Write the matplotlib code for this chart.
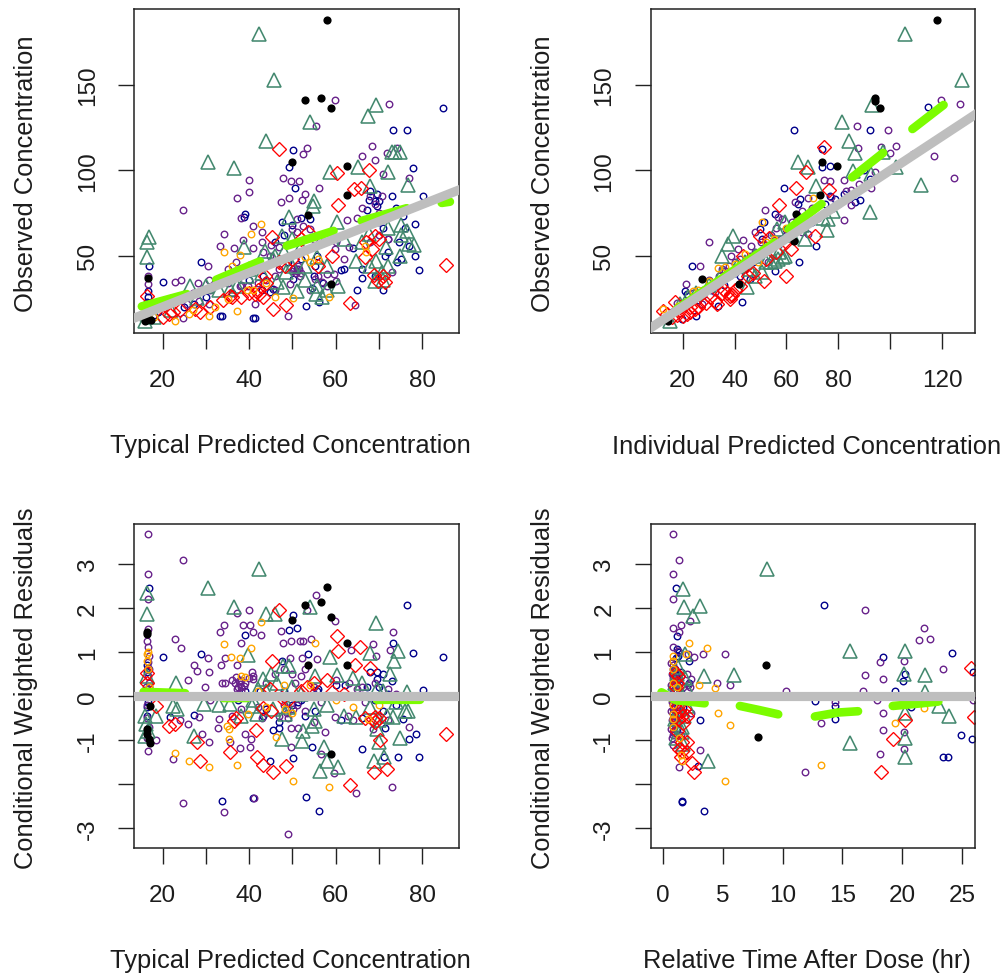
import numpy as np
import matplotlib
matplotlib.use("Agg")
import matplotlib.pyplot as plt

plt.rcParams['font.family'] = ['Liberation Sans', 'DejaVu Sans']

# ---- Panel A: typical predicted vs observed
a_navy_x = [84.8,73.3,76.5,50.2,49.2,77.9,50.6,72.9,69.5,67.8,80.2,67.3,39.1,38.7,75.6,78.3,76,71,74.7,77,78.3,74.2,79.3,71.4,64.1,61.2,66,71,56.2,53.1,41,33.7,28.8,20.1,16.8,16.6,16.6,16.4,55.2,51,50.2,54.5,45.6,47.5,54.1,43.3,60.2,55.6,44.8,27.2,33.2,41.3,69,69.5,72,
            46,48,50,52,53,49,47,52,55,57,62,65,70,73,74,70,68,72,75,69,66,38,40,43,36,30,25,19,17,18]
a_navy_y = [136.5,123.6,123.6,111.9,102.1,101.4,89.5,85.2,86.1,82.8,85.2,77,74.4,72.5,73,68.6,66,66,58.2,55.9,50,46.1,41.6,49.6,54.5,41.6,36.9,29.9,22.7,20.3,13.3,14.5,46.1,34.4,44.1,29.5,25.6,22.7,44.1,42.2,36.3,30.9,30.5,69.5,71.5,38.3,59.8,50,28.5,21.7,14.5,13.3,82,79,60,
            58,62,68,72,60,46,48,48,38,34,42,30,70,75,78,82,88,52,48,38,42,40,36,30,28,26,20,17,18,15]
a_purple_x = [59.8,72.3,55.4,53.3,52.4,68.3,66,74.1,71.8,69.1,40,40,37.2,47.8,49.7,51.5,56.2,52.9,52.2,49.2,47.4,24.8,38.2,41,34.1,42.9,33.2,36.4,38.5,41,62.7,65,71,77,67.9,70.8,30.4,24.3,22.9,28.1,30.8,25.6,28.3,30.8,24.8,48.9,64.5,72.9,51,49.9,52.5,54.1,51,50.2,51,51.8,49.5,56,55.2,57.9,59.5,56.8,59.8,37.9,39.8,41.4,16.6,16.6,44.8,43.3,
              50.3,51.2,50.8,51.5,49.8,52,44,46,47,43,38,35,33,42,46,54,58,60,63,62,66,69,70,72,70,68,55,57,60,47,45,43,37,35,31,27,22,19]
a_purple_y = [141.2,138.9,126.2,113.1,109.6,114.5,108.6,113.1,110,106.1,94.3,87.1,83.6,95.5,93.9,93.9,89.6,86.1,82.6,83.6,81.3,76.8,72.1,67.6,62.7,63.7,55.9,54.3,59.4,54.3,70.9,72.1,97.9,95.5,85.2,85.2,44.1,35.7,34.4,34,35.9,21.7,23.6,21.7,13.3,14.5,21.3,40.2,71.5,65.6,67.6,65.6,63.7,42.2,41.2,38.3,33.4,38.3,36.3,39.3,39.3,34.4,53.9,32.4,32.4,21.7,38.3,33.4,50,52,
              43,44,40,42,41,40,36,38,42,44,33,34,36,34,30,30,32,35,55,48,78,80,75,60,62,58,60,58,58,55,56,58,46,42,30,28,25,22]
a_tri_x = [42.2,45.8,69.4,67.5,54.1,43.9,30.6,36.5,58.7,65.2,72.2,73.7,74.8,72.9,76.8,67.9,55,54.8,49.1,60.2,76.4,16.8,16.5,16.5,38.9,43.7,47.5,71.7,74.8,64.8,69.4,77,67.7,55.6,48.6,46.4,47.9,51,55.4,56.9,60.6,69.1,70.6,35.6,37.2,26.4,16,55.6,39.5,45.6,
           50,52,46,48,50,53,58,62,66,72,75,72,78,40,43,33,30,28,22,18,16.5,58,53,68,71,75]
a_tri_y = [179.9,153.1,138.5,132,128.1,117.4,104.7,101.4,98.8,102.1,98.8,110.5,110.5,110.5,91.6,91,82.2,79.3,72.5,69.5,64.6,60.7,57.8,49,54.9,52.9,61.7,54.9,50,47.1,47.1,56.8,62.7,49,40.2,34.4,31.4,29.5,27.5,25.6,32.4,35.4,40.2,30.5,32.4,32.4,12,32.4,38.3,48,
           60,55,50,52,44,44,44,60,58,66,62,44,56,42,40,30,32,25,18,14,16,30,36,44,36,68]
a_red_x = [46.8,60.2,67.8,64.2,65.8,60.6,53.5,45.2,69.1,68.3,66.8,59.1,85.6,68.9,69.8,71.4,63.3,48.5,45.4,43.7,42.2,43.3,36,35.6,27.5,28.7,22.5,21.4,16.5,48.3,41.4,
           52,50,47,44,42,40,38,34,31,24,20,17,56,67,70,71]
a_red_y = [112.5,98.4,100.2,89.1,89.6,79.7,63.7,60.7,61.7,53.9,49,49.6,44.5,38.7,35.4,34.4,22.3,21.1,18.8,38.3,27.5,25.6,25.6,26.6,18.8,16.8,16.8,15.8,26.6,44.1,27.5,
           60,48,46,34,30,28,26,24,20,18,14,20,44,58,60,38]
a_orange_x = [42.8,40.5,34.1,37.8,66.8,52.9,50.2,58.5,46,39.6,35.2,37.2,30.8,26.2,22.9,36,48,44,41,27,18,32,54,56,67]
a_orange_y = [68.6,62.7,52,50.4,55.9,49,25.2,26,26,30.1,24.6,17.8,14.5,15.8,11.9,44.1,48,34,30,18,14,20,46,48,52]
a_black_x = [58.1,52.9,56.6,58.9,49.8,62.7,62.7,53.5,58.9,16.6,16.6,17.2,16]
a_black_y = [188,141.2,142.4,136.5,104.7,102.3,85.7,74,33.4,36.7,12.9,12.5,12]
a_smooth_x = [15.2,25.6,np.nan,32.4,42.5,np.nan,48.7,59.5,np.nan,66,76.4,np.nan,84.5,86.4]
a_smooth_y = [20.3,27.5,np.nan,35.9,46.7,np.nan,55.8,64.5,np.nan,70.4,77.8,np.nan,80.9,81.6]

# ---- Panel B: individual predicted vs observed
b_navy_x = [62.7,92,114.5,73.5,73.5,76.7,59,65.1,64.5,88.2,86.3,71.2,65,23.5,20.9,42.7,25,19.6,55.5,51.5,49.7,55.5,45.9,33.5,21.5,76.7,78.6,60,50.4,
            16,18,22,26,28,31,33,36,38,40,42,44,47,50,52,54,57,60,63,66,70,75,82,90,92]
b_navy_y = [123.6,123.6,136.9,112.5,101.8,102.3,89.5,83.2,80.3,82.6,81.3,55.5,46.1,44.1,29.5,22.7,14.5,12.9,74.4,69.9,65.6,41.2,36.3,20.7,27.5,85.2,83.2,65.6,59.8,
            17,18,22,24,27,30,32,33,38,40,38,42,46,50,52,55,57,62,66,68,70,80,86,100,95]
b_purple_x = [87.3,99.1,119.6,126.7,102.1,96.5,87.6,99.7,116.7,124.5,94.2,82.1,74.4,76.9,92.4,85,83.1,82.1,85,51.9,63.2,68.3,30.3,43.3,47.8,26.7,21.2,38.8,56.8,58.1,46.5,41.4,35,53,68.3,65.8,32.4,27.3,108.7,36.3,77.3,
              24,28,30,32,34,38,40,42,44,46,48,50,52,54,56,58,60,62,64,66,70,72,78,80,88,90,18,20]
b_purple_y = [126.2,123.6,141.2,138.9,114.5,113.5,113.1,110,108.6,95.5,99.2,94.3,94.3,93.9,89.5,88.7,88.1,70.9,79.9,76.8,81.3,83.6,57.8,59.4,64.1,44.1,33.4,50,72.5,71.5,55.9,53.9,42.2,46.1,62.7,63.7,28.5,21.7,109.6,41.2,84.2,
              28,30,36,34,38,44,46,48,44,50,52,58,56,62,66,60,62,70,72,76,78,72,78,80,92,90,22,20]
b_tri_x = [105.5,127.7,93,81.4,84,86.3,64.5,68.3,71.5,111.7,85.6,92,75.6,76,39.5,37.6,35.3,59.4,56.8,58.7,44.6,47.8,56.2,59.4,97.2,102.3,19,15.1,50.4,92.7,67,55.5,
           30,44,46,52,54,57,48,62,66,74,78,22,25,35,41]
b_tri_y = [179.9,153.1,138.3,128.1,117.4,110.2,104.7,101.8,91,91.6,99.8,75.8,65,71.5,61.3,56.8,49.6,50,48,49,31.4,38.3,65.6,69.5,110.5,101.8,21.7,11.9,40.2,97.9,59.8,47.1,
           33,46,42,46,46,52,50,62,68,72,76,26,28,40,44]
b_red_x = [74.5,67.4,63.8,57.1,76.4,70.9,49.7,53.2,61.9,60,51.4,43.3,38.3,38.2,33.1,32.4,26,22.8,20.3,12.6,17.1,30.5,38.8,21.5,24.7,
           14,16,18,19,23,27,29,35,36,37,39,40,42,45,47,52,56,65,60]
b_red_y = [113.5,98.8,89.6,79.7,88.5,61.3,61.3,60.2,53.9,38.3,35,50,26.6,24.6,21.7,23.6,19.7,16.8,14.8,17.8,22.7,25.6,27.5,15.8,18.8,
           16,14,15,18,20,23,22,28,30,28,27,30,32,38,40,48,52,70,58]
b_orange_x = [70.3,50.4,33.7,23.8,12.6,44,49.1,36.3,18.3,26,30,40,45,52,55,60]
b_orange_y = [83.8,69.5,42.6,29.5,18.8,51,46.1,43.2,20.7,30,35,45,48,58,60,66]
b_black_x = [118.1,94.2,94.2,95.9,73.5,79.6,72.8,63.5,27.6,41.9,62.8,14.5]
b_black_y = [188,142.2,140.8,136.5,104.7,102.3,85.7,74.4,36.3,33.4,58.8,11.9]
b_smooth_x = [17.7,55.5,np.nan,60.9,73.5,np.nan,85.3,97.2,np.nan,108.5,120.5]
b_smooth_y = [18.6,57.8,np.nan,65.6,80.3,np.nan,95.9,110.2,np.nan,124.2,138.3]

# ---- Panel C: typical predicted vs residual
c_navy_x = [84.8,76.5,16.8,50.2,39.1,49.1,51,20.1,28.8,53.5,77.9,73.3,47.5,69.5,71,72.9,62.2,67.3,80.2,55.6,27.2,21.8,75.6,61.2,43.3,45.6,47,71.5,77,78.5,54.5,66,74.3,79.3,71.2,50.2,44.8,53.1,33.7,41,56.2,55.2,51.4,16.4,16.4,69.5,
            48,50,52,53,47,42.5,44,56,60,68,70,72,74,69,71,66,16.8,16.3,16.7,16.3,39,37.5]
c_navy_y = [.89,2.07,2.45,1.84,1.39,1.5,1.53,.89,.94,.95,.98,1.21,.8,.53,.49,.34,.25,.2,.14,.11,-.43,-.47,-.53,-.55,-.45,-.77,-.74,-.74,-.97,-.87,-1.16,-1.2,-1.38,-1.38,-1.38,-1.42,-1.48,-2.3,-2.39,-2.33,-2.61,-.34,-.15,.53,-.45,.38,
            .1,-.2,-.1,-.45,-.6,.1,-.3,.15,.25,.55,.2,.05,-.2,-.1,-.35,-.5,.2,.7,-.15,-.25,.1,-.1]
c_purple_x = [16.6,24.8,16.6,16.6,55.4,37.3,40,53.3,59.8,34.1,33.2,38.5,40.2,41,42.8,47.4,73.3,22.9,24.3,38.2,47.8,49.7,51.8,52.5,54.3,68.7,63.5,72.5,30.4,27.2,27.9,30.8,33.5,34.5,37.2,25.8,29.8,33.7,34.5,37.5,37.9,37.2,38.7,39.1,41,41,49.5,52.2,55.6,69.3,50.6,65,28.5,33.1,32.7,29.1,30.8,25.8,39.1,40.4,40.1,35.5,37.8,49.7,51.2,49.7,57.5,56.6,59.5,22.5,16.6,18.4,77,68.7,62.9,59.8,56.5,66.8,72.9,64.6,24.8,34.1,41.2,48.9,16.6,16.6,16.6,16.6,16.6,50.2,48.7,
              36,37,38,38,37.5,36.8,38.2,37.7,40,40.6,44,46,48,50,52,53,55,48,47,49,51,53,55,43,42,38,36,60,63,66,69,72,74,64,72,16.2,16.8,16.5,16.3,16.8,16.4,16.8,16.4,16.6,16.9,31,24]
c_purple_y = [3.67,3.08,2.76,2.21,2.3,1.89,1.94,1.95,1.7,1.62,1.44,1.62,1.62,1.44,1.39,1.48,1.44,1.3,1.08,1.21,1.21,1.25,1.25,1.25,1.3,1.17,1.03,1.03,.85,.71,.57,.53,.71,.85,.71,.35,.19,.3,.3,.19,.27,.15,.23,.3,.45,.38,.87,.87,.83,.91,.3,.15,-.47,-.53,-.74,-.87,-1.06,-.65,-.87,-.97,-1.16,-1.06,-1.19,-.74,-.74,-1.16,-.83,-1.33,-1.76,-1.44,-1.25,-1.01,-.7,-.76,-.45,-.47,-.13,-.15,-2.06,-2.21,-2.43,-2.65,-2.33,-3.15,1.52,1.1,.76,.64,.45,-.3,-.38,
              .35,.42,.35,.1,.05,.28,.2,.33,.4,.55,.3,.5,.6,.5,.45,.6,.2,-.2,-.45,-.5,-.2,-.35,-.6,-.5,-.25,-.3,-.45,.35,.3,.2,.3,.15,.05,-.55,-.55,.2,.3,-.2,-.5,-.7,-.95,.9,1.25,.1,.6,-.1,-.55]
c_tri_x = [42.2,30.6,16.4,16.4,36.5,43.9,46,54.1,69.4,39.7,58.7,67.9,74.5,73.5,47.9,49.1,45.1,43.3,60.2,55.2,23.2,72.5,76.4,69.5,22.5,23.3,29.6,18.5,16,16,27.2,40.6,41.8,45.6,48.3,55.2,54.5,52.5,47.5,52.2,57.2,57.9,56.4,60.6,64.8,71.8,73.3,76.8,74.8,70.1,68.9,71.2,69.5,35.6,
           50,52,55,49,46.5,44,42,41,64,66,71,74,76,68,70,58,62,16.3,16.2,16.6,38,33]
c_tri_y = [2.88,2.44,2.33,1.87,2.01,1.86,1.86,2.01,1.65,.92,.89,.98,1.02,.8,.68,.68,.49,.38,.47,.44,.29,.49,.08,.15,-.23,-.3,-.19,-.45,-.45,-.91,-.91,-.23,-.42,-.3,-.42,-.57,-.68,-.8,-.98,-1.02,-1.17,-1.48,-1.7,-1.61,-.49,-.45,-.49,-.34,-.95,-1.06,-1.48,-1.4,-.76,-.19,
           .2,.05,-.3,-.25,.3,.1,.15,-.1,.4,.3,.1,-.15,-.35,-.25,-.55,-.2,-.45,.45,-.65,-.8,-.45,-.2]
c_red_x = [46.8,60.2,60.6,65.6,67.9,64.5,45.2,57.9,53.3,44.8,16.5,16.5,18.4,43.3,36.4,41.6,21.4,22.9,27.9,35.6,28.7,41.9,43.2,45.4,48.5,63.3,68.8,71.9,70.2,68.7,66.8,69.1,85.6,59.1,
           52,49,47.5,55,62,69,70,45,37]
c_red_y = [1.95,1.36,1.01,1.1,.63,.7,.78,.36,.19,.15,.52,.3,-.23,-.28,-.57,-.77,-.68,-.64,-1.05,-1.27,-1.48,-1.4,-1.57,-1.72,-1.59,-2.03,-1.72,-1.67,-1,-.53,-.51,-.49,-.87,.08,
           .12,-.1,-.05,.3,.05,-.6,-.5,-.35,-.5]
c_orange_x = [42.8,34.1,40.5,55.2,35.8,37.8,16.4,16.4,39.1,39.8,34.8,35.4,35.4,46.2,22.9,26.2,30.8,37.2,50.2,58.5,48.3,67.5,38,42,48,44,50,54,60,70,16.6,16.6,16.8,64]
c_orange_y = [1.67,1.17,1.08,1.21,.89,.85,.95,.8,.42,-.42,-.68,-.76,-.97,-.93,-1.29,-1.48,-1.61,-1.57,-1.93,-2.07,-.3,-.53,.45,.12,.25,-.25,-.4,.25,-.1,-.2,1.0,.6,.2,-.25]
c_black_x = [58.1,52.9,56.6,58.9,49.8,62.7,62.7,53.5,58.9,16.5,16.5,17,16.4,16.4,16.8,17]
c_black_y = [2.48,2.07,2.12,1.8,1.72,1.21,.71,.71,-1.33,1.44,1.4,-.24,-.76,-.87,-.98,-1.08]
c_smooth_x = [15.6,25.2,np.nan,34,39.5,np.nan,69.5,79.5]
c_smooth_y = [.09,.06,np.nan,-.05,-.05,np.nan,-.09,-.09]

# ---- Panel D: time after dose vs residual
d_navy_x = [1.08,13.44,1.22,1.22,1.31,2.22,18.4,24.1,20.2,20.06,25.9,19.4,12.75,14.4,14.4,3.08,24.9,25.8,23.4,23.8,1.58,1.58,3.42,2.92,20.75,1.03,1.03,1.03,1.31,
            1.1,1.1,1.2,1.3,1.5,1.7,1.1,1.4,1.3,1.2,2.2,1.6]
d_navy_y = [2.44,2.07,1.36,1.06,.91,.8,.89,.98,.49,.34,.53,.12,-.11,-.24,-.53,-.56,-.89,-.97,-1.39,-1.39,-2.39,-2.42,-2.61,-1.59,-.25,.23,.61,-.45,-.38,
            .45,-.15,.1,-.6,.55,-.25,.85,1.0,.35,-.75,.3,.05]
d_purple_x = [.89,1.39,.89,.89,16.9,2.28,1.53,.89,1.39,21.8,21.4,22.3,.89,1.31,2.61,3.39,5.22,18.1,20.1,16.9,18.4,23.4,4.56,5.58,2.36,2.14,10.25,16.7,17.9,14.4,18.4,13.25,18.4,20.1,20.1,18.1,3.11,.83,1.39,11.9,25.9,.85,.9,.85,.9,.85,.9,.85,.85,.9,.85,.9,.85,.9,.85,.85,.9,.85,1.2,1.4,1.6,1.3,1.5,
              .7,.95,.75,.95,.7,.95,.75,.95,.7,.95,.75,.95,.7,.95,.8,1.1,1.2,1.4,1.5,1.7,2,2.3,2.4,2.1]
d_purple_y = [3.67,3.08,2.76,2.21,1.94,1.7,1.62,1.53,1.44,1.53,1.26,1.3,1.1,1.02,.89,.95,.94,.76,.8,.48,.39,.62,.3,.25,.39,.25,.12,.12,-.1,-.15,-.38,-.61,-.78,-.83,-1.2,-1.33,-1.24,-1.11,-1.61,-1.74,-.1,.8,.7,.6,.5,.4,.3,.2,.1,-.1,-.2,-.3,-.4,-.5,-.6,-.7,-.8,-.9,.55,.3,-.35,-.62,-.9,
              .75,.62,.5,.35,.25,.12,-.15,-.25,-.35,-.45,-.55,-.65,-.75,-.85,-.95,.1,-.2,-.1,.45,.2,.5,.2,-.4,.95]
d_tri_x = [8.67,1.67,1.8,3.11,2.5,15.67,20.2,5.97,3.47,20.1,21.9,21.9,23.06,23.9,20.2,20.2,15.67,20.2,3.8,1.86,1.03,1.58,1.03,2,2,
           1.2,1.4,1.5,1.3,1.8,1.1,1.7,1.2,1.9,1.6]
d_tri_y = [2.88,2.42,2.01,2.03,1.82,1.01,1.01,.48,.44,.49,.47,.08,-.23,-.45,-.38,-.95,-1.08,-1.4,-1.48,.95,.3,-.83,-.53,.15,-.23,
           .5,-.3,.05,.65,-.45,-.95,-1.1,.1,.4,-.7]
d_red_x = [1.08,1.22,1.31,1.31,2,1.72,2,2,1.53,2.42,2.61,1.58,25.75,26,20.2,19.2,18.2,1.3,1.1,1.4,1.6,1.2,1.8,1.4,1.6]
d_red_y = [.52,.3,-.23,-.53,-.45,-.61,-1.06,-1.27,-1.4,-1.53,-1.73,-1.06,.64,-.49,-.55,-.98,-1.73,.45,.2,-.35,-.45,-.8,-.3,-1.2,-1.25]
d_orange_x = [2.22,3.72,1.92,.89,3.06,4.36,4.58,5.58,19.4,21.8,13.25,5.22,.89,1.64,.89,.85,.85,.85,.85,1.4,1.2,.85,1.5]
d_orange_y = [1.21,1.08,.95,.8,.25,.17,-.38,-.66,-.62,-.27,-1.58,-1.93,-.53,-1.48,-.42,.6,.3,-.2,-.7,-.95,.2,.9,-1.35]
d_black_x = [8.58,7.92]
d_black_y = [.71,-.93]
d_smooth_x = [-.1,1.1,3.5,np.nan,6.44,8,9.64,np.nan,12.7,14.6,16.3,np.nan,19.2,21.6,23]
d_smooth_y = [.08,-.1,-.17,np.nan,-.23,-.32,-.42,np.nan,-.47,-.38,-.35,np.nan,-.23,-.17,-.13]

xlabel_pred = "Typical Predicted Concentration"
xlabel_ipred = "Individual Predicted Concentration"
xlabel_time = "Relative Time After Dose (hr)"
ylabel_obs = "Observed Concentration"
ylabel_res = "Conditional Weighted Residuals"

W, H = 1004, 979
NAVY, PURPLE, SEA, RED, ORANGE, BLACK = '#00008b', '#68228b', '#44896f', '#ff0000', '#ffa500', '#000000'
SMOOTH, REF = '#7cfc00', '#bebebe'
TEXT = '#1c1c1c'
FS_LABEL = 18.4
FS_TICK = 17.5


def make_axes(left, top, right, bottom):
    return fig.add_axes([left / W, 1 - bottom / H, (right - left) / W, (bottom - top) / H])


def panel(ax, navy, purple, tri, red, orange, black, smooth, xlabel, ylabel, xlim, ylim,
          xt, xtl, yt, ytl, refline):
    kw = dict(linestyle='none', markerfacecolor='none')
    ax.plot(*navy, marker='o', ms=4.7, mew=1.0, color=NAVY, **kw)
    ax.plot(*purple, marker='o', ms=4.7, mew=1.0, color=PURPLE, **kw)
    ax.plot(*tri, marker='^', ms=9.4, mew=1.15, color=SEA, **kw)
    ax.plot(*red, marker='D', ms=6.8, mew=0.95, color=RED, **kw)
    ax.plot(*orange, marker='o', ms=4.7, mew=1.0, color=ORANGE, **kw)
    ax.plot(*black, linestyle='none', marker='o', ms=5.9, color=BLACK, mew=0)
    ax.plot(*smooth, color=SMOOTH, lw=6.2, solid_capstyle='round', zorder=5)
    if refline == 'identity':
        ax.axline((0, 0), slope=1, color=REF, lw=6.6, zorder=6)
    else:
        ax.axhline(0, color=REF, lw=6.6, zorder=6)
    ax.set_xlim(*xlim)
    ax.set_ylim(*ylim)
    ax.set_xticks(xt)
    ax.set_xticklabels(xtl)
    ax.set_yticks(yt)
    ax.set_yticklabels(ytl, rotation=90, va='center')
    ax.tick_params(axis='both', length=11.5, width=1.0, labelsize=FS_TICK, color='#222222', labelcolor=TEXT)
    ax.tick_params(axis='x', pad=14.5)
    ax.tick_params(axis='y', pad=14)
    for s in ax.spines.values():
        s.set_linewidth(1.1)
        s.set_color('#222222')
    ax.set_xlabel(xlabel, fontsize=FS_LABEL, color=TEXT, va='center')
    ax.set_ylabel(ylabel, fontsize=FS_LABEL, color=TEXT, va='center')
    bb = ax.get_position()
    ax.xaxis.set_label_coords(0.5 * (bb.x0 + bb.x1) - 6 / W, bb.y0 - 112.5 / H, transform=fig.transFigure)
    ax.yaxis.set_label_coords(bb.x0 - 108 / W, 0.5 * (bb.y0 + bb.y1) - 2 / H, transform=fig.transFigure)


fig = plt.figure(figsize=(W / 100, H / 100), dpi=100)
pred_xt = [20, 30, 40, 50, 60, 70, 80]
pred_xtl = ['20', '', '40', '', '60', '', '80']
conc_yt = [50, 100, 150]
conc_ytl = ['50', '100', '150']
res_yt = [-3, -2, -1, 0, 1, 2, 3]
res_ytl = ['-3', '', '-1', '0', '1', '2', '3']

panel(make_axes(134.5, 10, 459, 334), (a_navy_x, a_navy_y), (a_purple_x, a_purple_y), (a_tri_x, a_tri_y),
      (a_red_x, a_red_y), (a_orange_x, a_orange_y), (a_black_x, a_black_y), (a_smooth_x, a_smooth_y),
      xlabel_pred, ylabel_obs, (13.5, 88.5), (4.7, 194.5), pred_xt, pred_xtl, conc_yt, conc_ytl, 'identity')
panel(make_axes(650.7, 10, 975, 334), (b_navy_x, b_navy_y), (b_purple_x, b_purple_y), (b_tri_x, b_tri_y),
      (b_red_x, b_red_y), (b_orange_x, b_orange_y), (b_black_x, b_black_y), (b_smooth_x, b_smooth_y),
      xlabel_ipred, ylabel_obs, (7.7, 132.6), (4.7, 194.5), [20, 40, 60, 80, 100, 120],
      ['20', '40', '60', '80', '', '120'], conc_yt, conc_ytl, 'identity')
panel(make_axes(134.5, 524.7, 459, 848.7), (c_navy_x, c_navy_y), (c_purple_x, c_purple_y), (c_tri_x, c_tri_y),
      (c_red_x, c_red_y), (c_orange_x, c_orange_y), (c_black_x, c_black_y), (c_smooth_x, c_smooth_y),
      xlabel_pred, ylabel_res, (13.5, 88.5), (-3.45, 3.91), pred_xt, pred_xtl, res_yt, res_ytl, 'zero')
panel(make_axes(650.7, 524.7, 975, 848.7), (d_navy_x, d_navy_y), (d_purple_x, d_purple_y), (d_tri_x, d_tri_y),
      (d_red_x, d_red_y), (d_orange_x, d_orange_y), (d_black_x, d_black_y), (d_smooth_x, d_smooth_y),
      xlabel_time, ylabel_res, (-1, 26.06), (-3.45, 3.91), [0, 5, 10, 15, 20, 25],
      ['0', '5', '10', '15', '20', '25'], res_yt, res_ytl, 'zero')

fig.savefig('out.png', dpi=100)
